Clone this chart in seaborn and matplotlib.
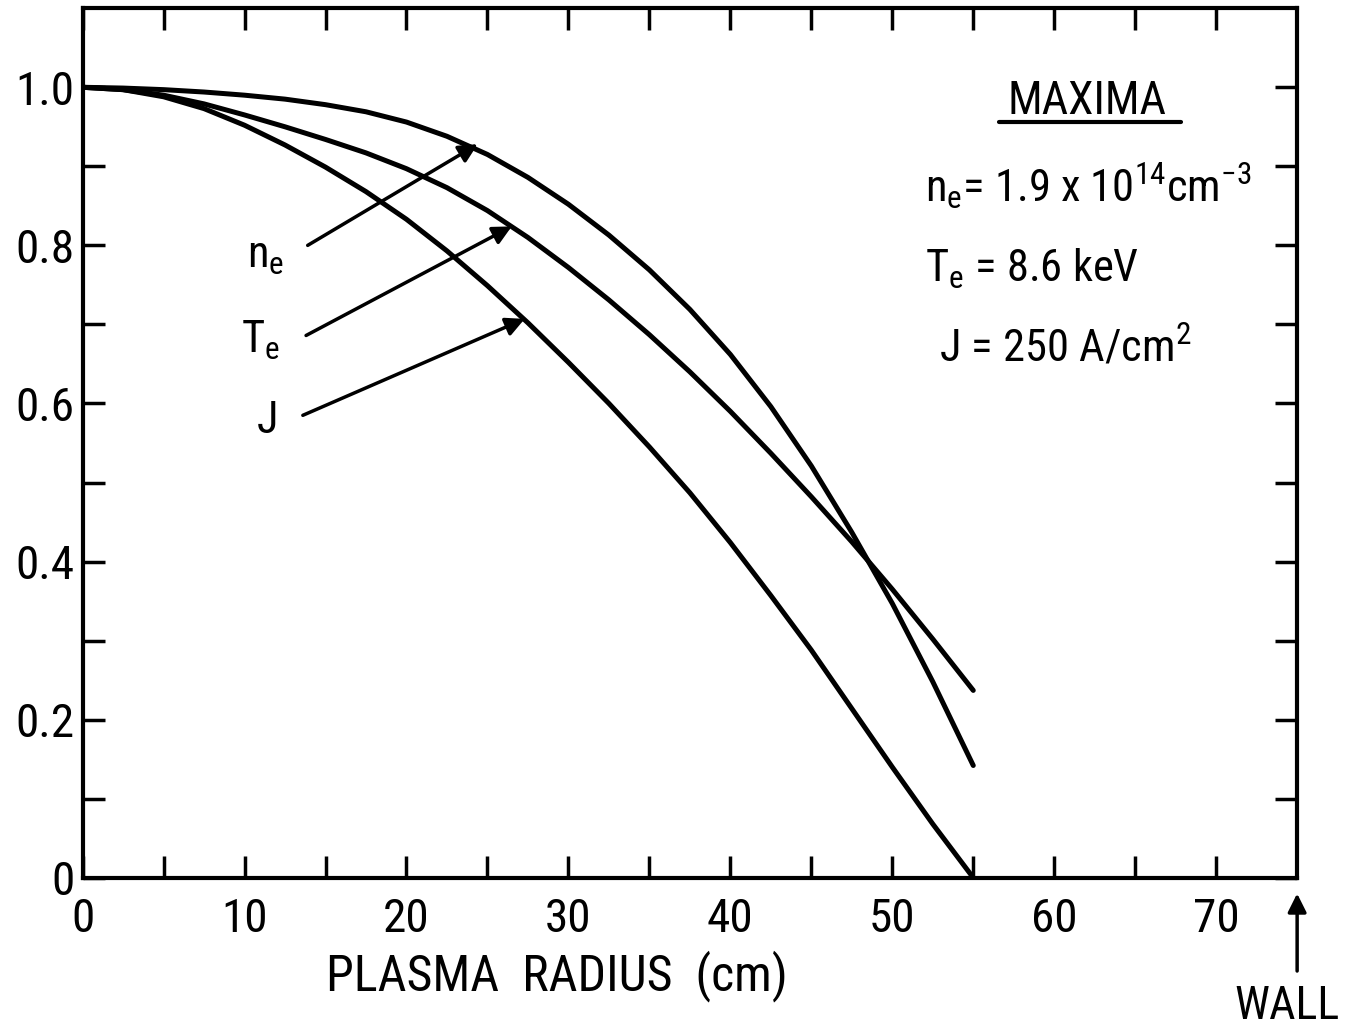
import numpy as np
import pandas as pd
import matplotlib
matplotlib.use("Agg")
import matplotlib.pyplot as plt
from matplotlib import font_manager
import seaborn as sns

# ---- data ----
radius = [0, 2.5, 5, 7.5, 10, 12.5, 15, 17.5, 20, 22.5, 25, 27.5, 30,
          32.5, 35, 37.5, 40, 42.5, 45, 47.5, 50, 52.5, 55]
ne_vals = [1.0, 0.999, 0.997, 0.994, 0.990, 0.985, 0.978, 0.969, 0.956, 0.938,
           0.915, 0.886, 0.852, 0.813, 0.769, 0.719, 0.662, 0.596, 0.521,
           0.437, 0.347, 0.248, 0.142]
te_vals = [1.0, 0.997, 0.990, 0.979, 0.965, 0.950, 0.934, 0.917, 0.897, 0.873,
           0.844, 0.810, 0.772, 0.731, 0.687, 0.640, 0.590, 0.537, 0.482,
           0.425, 0.365, 0.302, 0.237]
j_vals = [1.0, 0.997, 0.988, 0.973, 0.952, 0.927, 0.899, 0.868, 0.833, 0.793,
          0.749, 0.702, 0.652, 0.600, 0.545, 0.487, 0.424, 0.357, 0.288, 0.214,
          0.140, 0.068, 0.0]
series_names = ["ne", "Te", "J"]
x_ticks = [0, 10, 20, 30, 40, 50, 60, 70]
y_ticks = [0, 0.2, 0.4, 0.6, 0.8, 1.0]
y_tick_labels = ["0", "0.2", "0.4", "0.6", "0.8", "1.0"]

df = pd.DataFrame({
    "radius": radius * 3,
    "value": ne_vals + te_vals + j_vals,
    "series": sum([[n] * len(radius) for n in series_names], []),
})

sns.set_style("white")
available = {f.name for f in font_manager.fontManager.ttflist}
narrow = None
for cand in ["Liberation Sans Narrow", "DejaVu Sans Condensed", "Roboto Condensed"]:
    if cand in available:
        narrow = cand
        break
if narrow:
    plt.rcParams["font.family"] = [narrow, "DejaVu Sans"]
    fs = dict(tick=34, xlabel=36, maxima=33, info=32, curve=32, wall=33)
else:
    plt.rcParams["font.family"] = ["DejaVu Sans"]
    fs = dict(tick=28, xlabel=30, maxima=30, info=27, curve=30, wall=28)
plt.rcParams["mathtext.default"] = "regular"
plt.rcParams["text.color"] = "black"

fig = plt.figure(figsize=(13.54, 10.29), dpi=100)
ax = fig.add_axes([0.061, 0.147, 0.897, 0.845])

sns.lineplot(data=df, x="radius", y="value", units="series", estimator=None,
             color="black", linewidth=3.6, legend=False, ax=ax)
for ln in ax.get_lines():
    ln.set_solid_joinstyle("round")
    ln.set_solid_capstyle("round")

ax.set_xlim(0, 75)
ax.set_ylim(0, 1.1)
for s in ax.spines.values():
    s.set_visible(True)
    s.set_linewidth(3.0)
    s.set_color("black")

ax.set_xticks(x_ticks)
ax.set_xticklabels([str(t) for t in x_ticks])
ax.set_xticks(np.arange(5, 75, 10), minor=True)
ax.set_yticks(y_ticks)
ax.set_yticklabels(y_tick_labels)
ax.set_yticks(np.arange(0.1, 1.1, 0.2), minor=True)
ax.tick_params(which="both", direction="in", length=16, width=2.5,
               top=True, right=True, bottom=True, left=True, colors="black")
ax.tick_params(axis="x", which="major", labelsize=fs["tick"], pad=14)
ax.tick_params(axis="y", which="major", labelsize=fs["tick"], pad=6)
ax.set_xlabel("")
ax.set_ylabel("")

ax.text(29.3, -0.124, "PLASMA  RADIUS  (cm)", fontsize=fs["xlabel"],
        ha="center", va="center", clip_on=False)

# curve labels and arrows
arrow_kw = dict(arrowstyle="-|>", lw=2.5, color="black", mutation_scale=28,
                shrinkA=0, shrinkB=0)
ax.annotate("", xy=(24.4, 0.928), xytext=(13.9, 0.80), arrowprops=arrow_kw)
ax.annotate("", xy=(26.5, 0.824), xytext=(13.8, 0.686), arrowprops=arrow_kw)
ax.annotate("", xy=(27.3, 0.707), xytext=(13.6, 0.585), arrowprops=arrow_kw)
ax.text(11.3, 0.787, r"$n_e$", fontsize=fs["curve"], ha="center", va="center")
ax.text(11.0, 0.68, r"$T_e$", fontsize=fs["curve"], ha="center", va="center")
ax.text(11.4, 0.578, "J", fontsize=fs["curve"], ha="center", va="center")

# maxima box
ax.text(62.0, 0.983, "MAXIMA", fontsize=fs["maxima"], ha="center", va="center")
ax.plot([56.6, 67.8], [0.956, 0.956], color="black", lw=3)
ax.text(52.0, 0.875, r"$n_e$= 1.9 x 10$^{14}$cm$^{-3}$", fontsize=fs["info"],
        ha="left", va="center")
ax.text(52.0, 0.77, r"$T_e$ = 8.6 keV", fontsize=fs["info"], ha="left",
        va="center")
ax.text(52.9, 0.67, r"J = 250 A/cm$^{2}$", fontsize=fs["info"], ha="left",
        va="center")

# wall marker
ax.annotate("", xy=(75, -0.02), xytext=(75, -0.118), annotation_clip=False,
            arrowprops=dict(arrowstyle="-|>", lw=2.5, color="black",
                            mutation_scale=28, shrinkA=0, shrinkB=0))
ax.text(74.4, -0.135, "WALL", fontsize=fs["wall"], ha="center", va="top",
        clip_on=False)

fig.savefig("out.png", dpi=100, facecolor="white")
